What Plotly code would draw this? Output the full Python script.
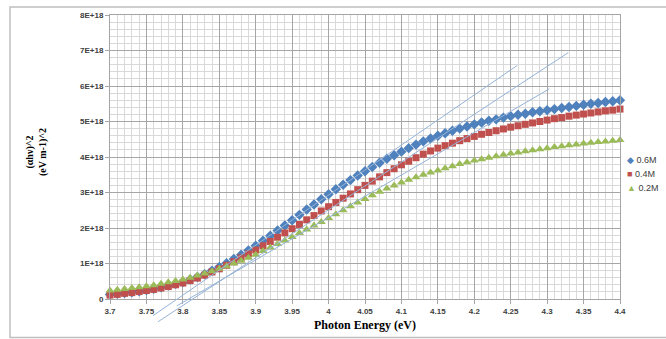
import plotly.graph_objects as go

energy = [round(3.70 + 0.01 * i, 2) for i in range(71)]

# values in units of 1E+18
s06 = [0.13, 0.15, 0.17, 0.19, 0.22, 0.25, 0.29, 0.33, 0.38, 0.43,
       0.48, 0.55, 0.62, 0.70, 0.80, 0.90, 1.01, 1.13, 1.25, 1.37,
       1.50, 1.64, 1.78, 1.93, 2.07, 2.22, 2.37, 2.52, 2.66, 2.81,
       2.95, 3.09, 3.22, 3.35, 3.48, 3.60, 3.72, 3.84, 3.95, 4.05,
       4.15, 4.25, 4.35, 4.44, 4.52, 4.60, 4.67, 4.74, 4.80, 4.86,
       4.92, 4.97, 5.02, 5.06, 5.11, 5.15, 5.19, 5.22, 5.26, 5.29,
       5.32, 5.35, 5.38, 5.41, 5.44, 5.47, 5.50, 5.52, 5.55, 5.57, 5.60]
s04 = [0.11, 0.13, 0.16, 0.18, 0.21, 0.24, 0.27, 0.31, 0.35, 0.40,
       0.45, 0.52, 0.59, 0.67, 0.76, 0.85, 0.95, 1.05, 1.16, 1.27,
       1.38, 1.50, 1.62, 1.74, 1.86, 1.98, 2.10, 2.23, 2.35, 2.48,
       2.60, 2.72, 2.84, 2.96, 3.08, 3.20, 3.32, 3.44, 3.56, 3.67,
       3.78, 3.88, 3.98, 4.08, 4.17, 4.25, 4.32, 4.39, 4.46, 4.52,
       4.58, 4.64, 4.69, 4.74, 4.79, 4.84, 4.88, 4.92, 4.96, 5.00,
       5.04, 5.08, 5.11, 5.15, 5.18, 5.21, 5.24, 5.27, 5.30, 5.32, 5.35]
s02 = [0.24, 0.26, 0.28, 0.31, 0.33, 0.36, 0.39, 0.43, 0.47, 0.51,
       0.55, 0.60, 0.66, 0.72, 0.78, 0.85, 0.92, 1.00, 1.08, 1.16,
       1.25, 1.35, 1.45, 1.55, 1.65, 1.75, 1.86, 1.96, 2.07, 2.17,
       2.28, 2.39, 2.50, 2.61, 2.72, 2.82, 2.92, 3.02, 3.11, 3.20,
       3.28, 3.36, 3.43, 3.50, 3.56, 3.62, 3.68, 3.74, 3.80, 3.85,
       3.90, 3.94, 3.98, 4.02, 4.06, 4.10, 4.13, 4.16, 4.19, 4.22,
       4.25, 4.28, 4.30, 4.33, 4.35, 4.38, 4.40, 4.42, 4.44, 4.46, 4.48]

series_names = ["0.6M", "0.4M", "0.2M"]
series_colors = ["#4F81BD", "#C0504D", "#9BBB59"]
series_symbols = ["diamond", "square", "triangle-up"]
series_sizes = [8, 7, 8]
legend_glyphs = ["\u25C6", "\u25A0", "\u25B2"]

# tangent lines (eV, 1E+18 units)
tan_x0 = [3.759, 3.766, 3.792]
tan_y0 = [-0.47, -0.64, -0.19]
tan_x1 = [4.259, 4.329, 4.303]
tan_y1 = [6.58, 6.94, 5.92]

y_tickvals = [0, 1, 2, 3, 4, 5, 6, 7, 8]
y_ticktext = ["0", "1E+18", "2E+18", "3E+18", "4E+18", "5E+18", "6E+18", "7E+18", "8E+18"]
x_tickvals = [3.7, 3.75, 3.8, 3.85, 3.9, 3.95, 4.0, 4.05, 4.1, 4.15, 4.2, 4.25, 4.3, 4.35, 4.4]
x_ticktext = ["3.7", "3.75", "3.8", "3.85", "3.9", "3.95", "4", "4.05", "4.1", "4.15", "4.2", "4.25", "4.3", "4.35", "4.4"]

XMIN, XMAX, YMIN, YMAX = 3.7, 4.4, 0, 8
W, H = 666, 339
ML, MR, MT, MB = 110, 46, 11, 40
PW, PH = W - ML - MR, H - MT - MB
BOTTOM = H - MB  # pixel row of plot bottom

def px(e):
    return (e - XMIN) / (XMAX - XMIN)

def py(v):
    return (v - YMIN) / (YMAX - YMIN)

def pxl(x):  # pixel column -> paper x
    return (x - ML) / PW

def pyl(y):  # pixel row -> paper y
    return (BOTTOM - y) / PH

fig = go.Figure()
for name, vals, col, sym, sz in zip(series_names, [s06, s04, s02], series_colors,
                                    series_symbols, series_sizes):
    fig.add_trace(go.Scatter(
        x=energy, y=vals, mode="markers", name=name,
        marker=dict(symbol=sym, color=col, size=sz, line=dict(width=0)),
        cliponaxis=False, showlegend=False))

shapes = []
for a, b, c, d in zip(tan_x0, tan_y0, tan_x1, tan_y1):
    shapes.append(dict(type="line", xref="paper", yref="paper",
                       x0=px(a), y0=py(b), x1=px(c), y1=py(d),
                       line=dict(color="#95B3D7", width=1), layer="above"))
# outer chart border
shapes.append(dict(type="rect", xref="paper", yref="paper",
                   x0=pxl(10), x1=pxl(720), y0=pyl(338), y1=pyl(3),
                   line=dict(color="#BFBFBF", width=1.5), layer="below"))

annotations = [
    dict(text="<b>Photon Energy (eV)</b>", xref="paper", yref="paper",
         x=pxl(365), y=pyl(325), showarrow=False,
         xanchor="center", yanchor="middle",
         font=dict(family="Liberation Serif", size=12, color="#000000")),
    dict(text="<b>(\u03b1h\u03bd)^2<br>(eV m-1)^2</b>", xref="paper", yref="paper",
         x=pxl(36), y=pyl(150), showarrow=False, textangle=-90,
         xanchor="center", yanchor="middle",
         font=dict(family="Liberation Serif", size=10, color="#000000")),
]
for i, (name, col, g) in enumerate(zip(series_names, series_colors, legend_glyphs)):
    ypix = 158 + 14 * i
    annotations.append(dict(
        text=f"<span style='color:{col}'>{g}</span> {name}",
        xref="paper", yref="paper", x=pxl(625), y=pyl(ypix),
        showarrow=False, xanchor="left", yanchor="middle",
        font=dict(family="Liberation Sans", size=9, color="#404040")))

fig.update_layout(
    width=W, height=H,
    margin=dict(l=ML, r=MR, t=MT, b=MB),
    paper_bgcolor="white", plot_bgcolor="white",
    shapes=shapes, annotations=annotations,
    showlegend=False,
    xaxis=dict(range=[XMIN, XMAX], tickvals=x_tickvals, ticktext=x_ticktext,
               showgrid=True, gridcolor="#A6A6A6", gridwidth=1,
               minor=dict(dtick=0.01, tick0=3.7, showgrid=True, gridcolor="#D9D9D9", gridwidth=1),
               showline=True, linecolor="#A6A6A6", linewidth=1, mirror=True,
               ticks="outside", ticklen=4, tickcolor="#A6A6A6", zeroline=False,
               tickfont=dict(family="Liberation Sans", size=8, color="#404040", weight="bold")),
    yaxis=dict(range=[YMIN, YMAX], tickvals=y_tickvals, ticktext=y_ticktext,
               showgrid=True, gridcolor="#A6A6A6", gridwidth=1,
               minor=dict(dtick=0.2, tick0=0, showgrid=True, gridcolor="#D9D9D9", gridwidth=1),
               showline=True, linecolor="#A6A6A6", linewidth=1, mirror=True,
               ticks="outside", ticklen=4, tickcolor="#A6A6A6", zeroline=False,
               tickfont=dict(family="Liberation Sans", size=8, color="#404040", weight="bold")),
)

fig.write_html("out.html")
